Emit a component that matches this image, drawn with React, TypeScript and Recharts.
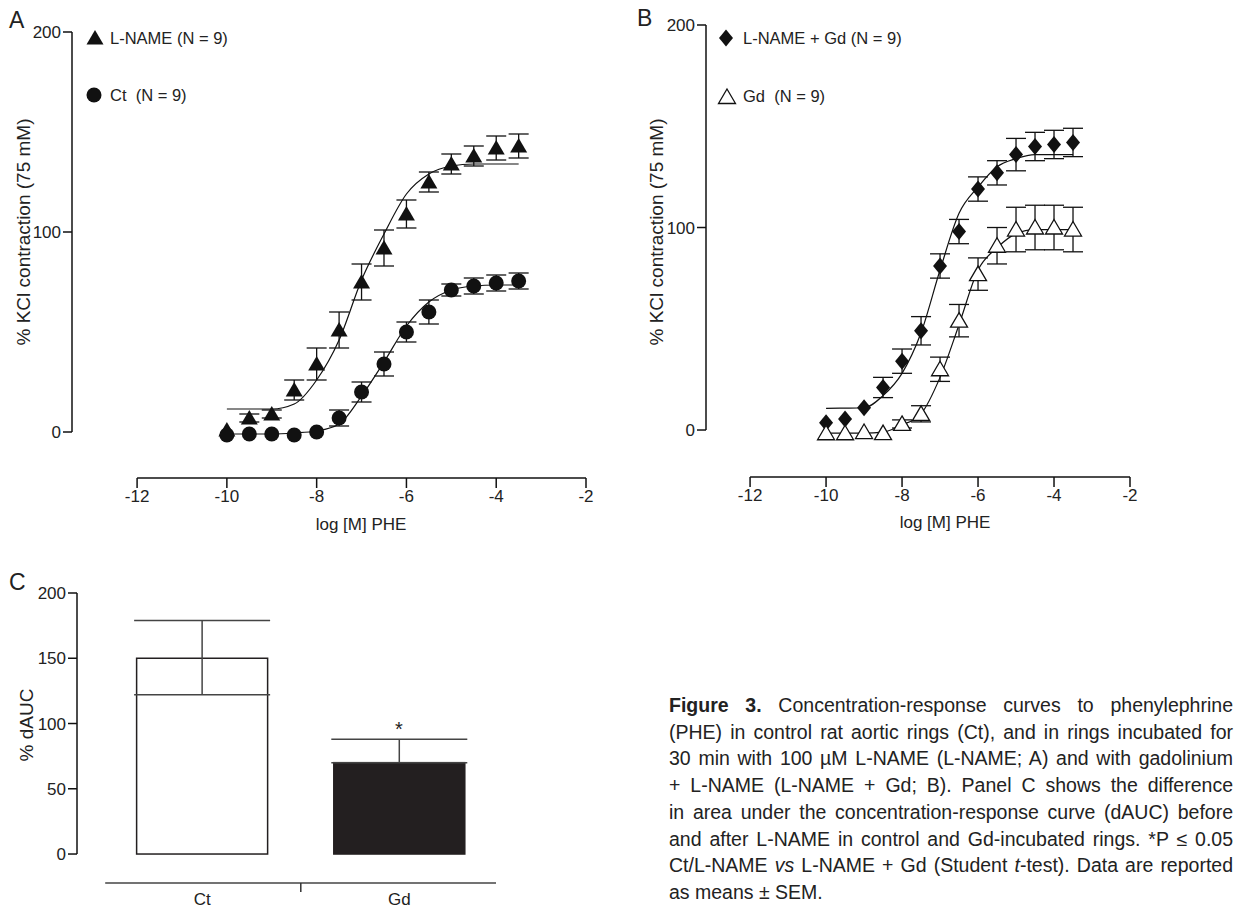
import React from "react";
import {
  ComposedChart,
  Line,
  Scatter,
  ErrorBar,
  XAxis,
  YAxis,
  ReferenceLine,
  Bar,
} from "recharts";

const FONT = "'Liberation Sans', Arial, sans-serif";

// log [M] PHE doses
const doses = [-10, -9.5, -9, -8.5, -8, -7.5, -7, -6.5, -6, -5.5, -5, -4.5, -4, -3.5];

// Panel A
const lnameMean = [1, 7, 9, 21, 34, 51, 75, 92, 109, 125, 134, 138, 142, 143];
const lnameSem = [0, 2, 2, 5, 8, 9, 9, 9, 7, 5, 5, 5, 6, 6];
const ctMean = [-1.5, -1, -1, -1.5, 0, 7, 20, 34, 50, 60, 71, 73, 74.5, 75.5];
const ctSem = [0, 0, 0, 0, 0, 4, 5, 6, 5, 6, 3, 4, 4, 4];
const lnameFit = [11.5, 11.5, 11.5, 14, 26, 46, 76, 99, 119, 129, 133, 134, 134, 134];
const ctFit = [-1, -1, -1, -0.5, 0.5, 4, 18, 35, 53, 65, 71, 73, 73.5, 73.5];

// Panel B
const lnGdMean = [3.6, 5.4, 11, 21, 34, 49, 81, 98, 119, 127, 136, 140, 141, 142];
const lnGdSem = [0, 0, 0, 5, 6, 7, 6, 6, 6, 6, 8, 7, 7, 7];
const gdMean = [-1.6, -1.6, -1, -1.5, 3, 8, 30, 54, 77, 91, 99, 100, 100, 99];
const gdSem = [0, 0, 0, 0, 2, 4, 6, 8, 8, 9, 11, 11, 11, 11];
const lnGdFit = [10.7, 10.8, 11, 17, 28, 48, 79, 107, 120, 130, 134, 136, 136, 136];
const gdFit = [-1.5, -1.5, -1.5, -1, 2.5, 8, 26, 52, 79, 90, 97, 99, 99, 99];

// Panel C
const groups = ["Ct", "Gd"];
const dAuc = [150, 70];
const dAucErr: [number, number][] = [[28, 29], [0, 18]];

const xTicks = [-12, -10, -8, -6, -4, -2];

const captionLines = [
  <><b>Figure 3.</b> Concentration-response curves to phenylephrine</>,
  <>(PHE) in control rat aortic rings (Ct), and in rings incubated for</>,
  <>30 min with 100 µM L-NAME (L-NAME; A) and with gadolinium</>,
  <>+ L-NAME (L-NAME + Gd; B). Panel C shows the difference</>,
  <>in area under the concentration-response curve (dAUC) before</>,
  <>and after L-NAME in control and Gd-incubated rings. *P ≤ 0.05</>,
  <>Ct/L-NAME <i>vs</i> L-NAME + Gd (Student <i>t</i>-test). Data are reported</>,
  <>as means ± SEM.</>,
];

const pts = (mean: number[], sem: number[]) =>
  doses.map((x, i) => ({ x, y: mean[i], err: sem[i] }));
const curve = (ys: number[]) => doses.map((x, i) => ({ x, y: ys[i] }));

function Marker({ kind, cx, cy }: { kind: string; cx: number; cy: number }) {
  if (kind === "circle") return <circle cx={cx} cy={cy} r={7.5} fill="#111" />;
  if (kind === "diamond")
    return (
      <polygon
        points={`${cx},${cy - 8.5} ${cx + 7},${cy} ${cx},${cy + 8.5} ${cx - 7},${cy}`}
        fill="#111"
      />
    );
  const open = kind === "open";
  return (
    <polygon
      points={`${cx},${cy - 8} ${cx + 8.5},${cy + 6.5} ${cx - 8.5},${cy + 6.5}`}
      fill={open ? "#fff" : "#111"}
      stroke="#111"
      strokeWidth={open ? 1.3 : 0}
    />
  );
}

const tickStyle = { fill: "#222", fontSize: 17, fontFamily: FONT };

function DoseChart(props: {
  xMin: number;
  yMin: number;
  margin: { top: number; right: number; left: number; bottom: number };
  width: number;
  series: { data: { x: number; y: number; err: number }[]; fit: { x: number; y: number }[]; kind: string }[];
}) {
  const { xMin, yMin, margin, width, series } = props;
  return (
    <ComposedChart width={width} height={520} margin={margin}>
      <XAxis
        type="number"
        dataKey="x"
        domain={[xMin, -2]}
        ticks={xTicks}
        allowDataOverflow
        axisLine={false}
        tickLine={{ stroke: "#111", strokeWidth: 1.5 }}
        tickSize={10}
        height={30}
        tick={tickStyle}
      />
      <YAxis
        type="number"
        dataKey="y"
        domain={[yMin, 200]}
        ticks={[0, 100, 200]}
        allowDataOverflow
        axisLine={false}
        tickLine={{ stroke: "#111", strokeWidth: 1.5 }}
        tickSize={9}
        width={60}
        tick={tickStyle}
      />
      <ReferenceLine
        segment={[{ x: xMin, y: 0 }, { x: xMin, y: 200 }]}
        stroke="#111"
        strokeWidth={1.5}
        ifOverflow="visible"
      />
      <ReferenceLine
        segment={[{ x: -12, y: yMin }, { x: -2, y: yMin }]}
        stroke="#111"
        strokeWidth={1.5}
        ifOverflow="visible"
      />
      {series.map((s, i) => (
        <Line
          key={"f" + i}
          data={s.fit}
          dataKey="y"
          type="monotone"
          stroke="#111"
          strokeWidth={1.2}
          dot={false}
          isAnimationActive={false}
        />
      ))}
      {series.map((s, i) => (
        <Scatter
          key={"s" + i}
          data={s.data}
          dataKey="y"
          isAnimationActive={false}
          shape={(p: any) => <Marker kind={s.kind} cx={p.cx} cy={p.cy} />}
        >
          <ErrorBar dataKey="err" direction="y" width={10} stroke="#111" strokeWidth={1.3} />
        </Scatter>
      ))}
    </ComposedChart>
  );
}

function Txt(props: { x: number; y: number; children: React.ReactNode; size?: number; rotate?: boolean; center?: boolean }) {
  const { x, y, children, size = 16.5, rotate, center } = props;
  return (
    <div
      style={{
        position: "absolute",
        left: x,
        top: y,
        fontSize: size,
        fontFamily: FONT,
        color: "#222",
        whiteSpace: "nowrap",
        transform: rotate
          ? "translate(-50%,-50%) rotate(-90deg)"
          : center
          ? "translate(-50%,-50%)"
          : "translateY(-50%)",
        lineHeight: 1,
      }}
    >
      {children}
    </div>
  );
}

function Sym({ kind, x, y }: { kind: string; x: number; y: number }) {
  return (
    <svg style={{ position: "absolute", left: x - 10, top: y - 10 }} width={20} height={20}>
      <Marker kind={kind} cx={10} cy={10} />
    </svg>
  );
}

function CTick(props: any) {
  const { x, y, payload } = props;
  if (payload.value === 1.5)
    return <line x1={x} x2={x} y1={y - 8} y2={y + 1} stroke="#333" strokeWidth={1.5} />;
  return (
    <text x={x} y={y + 14} textAnchor="middle" style={tickStyle}>
      {groups[payload.value - 1]}
    </text>
  );
}

const barData = groups.map((g, i) => ({ x: i + 1, v: dAuc[i], err: dAucErr[i] }));

export default function App() {
  const cxMin = 0.365;
  const cyMin = -22.2;
  return (
    <div style={{ position: "absolute", left: 0, top: 0, width: 1242, height: 909, background: "#fff" }}>
      <div style={{ position: "absolute", left: 0, top: 0 }}>
        <DoseChart
          width={620}
          xMin={-13.45}
          yMin={-23}
          margin={{ top: 32, right: 34, left: 12, bottom: 12 }}
          series={[
            { data: pts(lnameMean, lnameSem), fit: curve(lnameFit), kind: "tri" },
            { data: pts(ctMean, ctSem), fit: curve(ctFit), kind: "circle" },
          ]}
        />
      </div>
      <div style={{ position: "absolute", left: 620, top: 0 }}>
        <DoseChart
          width={622}
          xMin={-13.16}
          yMin={-23.2}
          margin={{ top: 25, right: 112, left: 26, bottom: 13 }}
          series={[
            { data: pts(lnGdMean, lnGdSem), fit: curve(lnGdFit), kind: "diamond" },
            { data: pts(gdMean, gdSem), fit: curve(gdFit), kind: "open" },
          ]}
        />
      </div>
      <div style={{ position: "absolute", left: 0, top: 560 }}>
        <ComposedChart width={620} height={349} data={barData} margin={{ top: 33, right: 124, left: 17, bottom: 0 }}>
          <XAxis
            type="number"
            dataKey="x"
            domain={[cxMin, 2.49]}
            ticks={[1, 1.5, 2]}
            allowDataOverflow
            axisLine={false}
            tickLine={false}
            height={26}
            tick={<CTick />}
          />
          <YAxis
            type="number"
            domain={[cyMin, 200]}
            ticks={[0, 50, 100, 150, 200]}
            allowDataOverflow
            axisLine={false}
            tickLine={{ stroke: "#111", strokeWidth: 1.5 }}
            tickSize={9}
            width={60}
            tick={tickStyle}
          />
          <ReferenceLine segment={[{ x: cxMin, y: 0 }, { x: cxMin, y: 200 }]} stroke="#111" strokeWidth={1.5} ifOverflow="visible" />
          <ReferenceLine segment={[{ x: 0.508, y: cyMin }, { x: 2.49, y: cyMin }]} stroke="#444" strokeWidth={1.5} ifOverflow="visible" />
          <Bar
            dataKey="v"
            barSize={131}
            isAnimationActive={false}
            shape={(p: any) => (
              <rect
                x={p.x}
                y={p.y}
                width={p.width}
                height={p.height}
                fill={p.index === 0 ? "#fff" : "#231f20"}
                stroke="#231f20"
                strokeWidth={1.5}
              />
            )}
          >
            <ErrorBar dataKey="err" direction="y" width={68} stroke="#444" strokeWidth={1.5} />
          </Bar>
        </ComposedChart>
      </div>

      <Txt x={9} y={20} size={23}>A</Txt>
      <Txt x={637} y={18} size={23}>B</Txt>
      <Txt x={9} y={582} size={23}>C</Txt>

      <Sym kind="tri" x={95} y={38} />
      <Txt x={110} y={38}>L-NAME (N = 9)</Txt>
      <Sym kind="circle" x={94} y={95} />
      <Txt x={110} y={95}>Ct&nbsp; (N = 9)</Txt>
      <Sym kind="diamond" x={726} y={38} />
      <Txt x={743} y={38}>L-NAME + Gd (N = 9)</Txt>
      <Sym kind="open" x={727} y={97} />
      <Txt x={743} y={96}>Gd&nbsp; (N = 9)</Txt>

      <Txt x={23} y={232} size={19} rotate>% KCl contraction (75 mM)</Txt>
      <Txt x={656} y={232} size={19} rotate>% KCl contraction (75 mM)</Txt>
      <Txt x={26} y={725} size={19} rotate>% dAUC</Txt>
      <Txt x={361} y={524} size={17} center>log [M] PHE</Txt>
      <Txt x={945} y={522} size={17} center>log [M] PHE</Txt>
      <Txt x={399} y={729} size={20} center>*</Txt>

      <div
        style={{
          position: "absolute",
          left: 669,
          top: 692,
          width: 564,
          fontFamily: FONT,
          fontSize: "19.5px",
          lineHeight: "26.7px",
          color: "#222",
        }}
      >
        {captionLines.map((l, i) => (
          <div
            key={i}
            style={{
              textAlign: "justify",
              textAlignLast: i < captionLines.length - 1 ? "justify" : "left",
              whiteSpace: "nowrap",
              fontSize: "19.5px",
            }}
          >
            {l}
          </div>
        ))}
      </div>
    </div>
  );
}
